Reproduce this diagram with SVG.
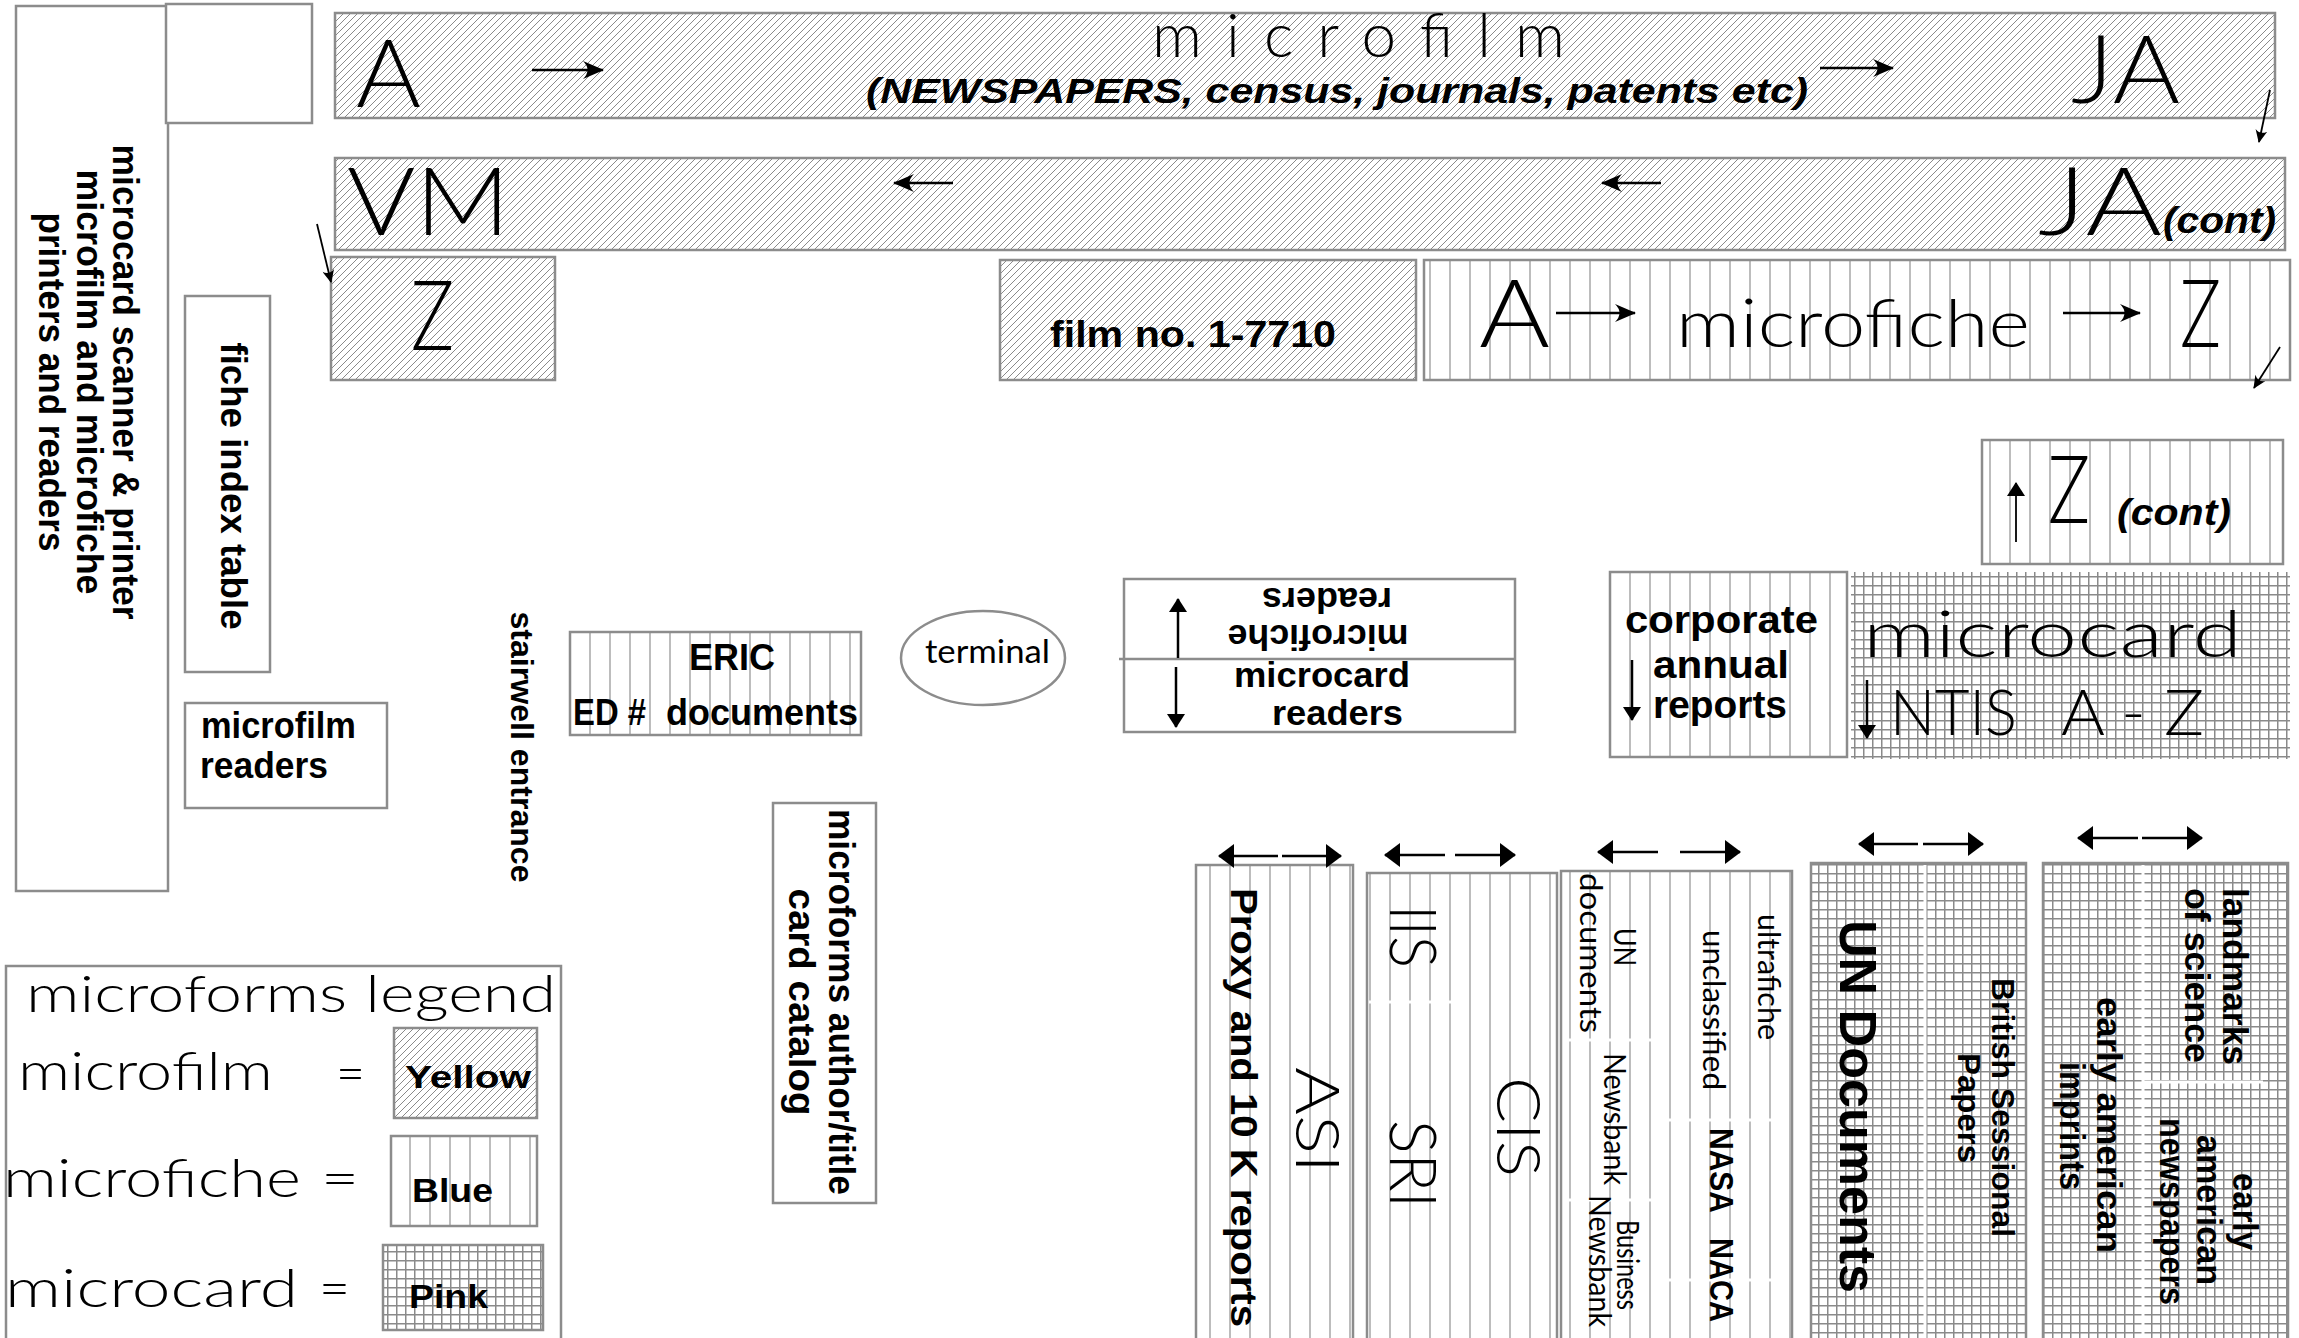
<svg xmlns="http://www.w3.org/2000/svg" width="2299" height="1338" viewBox="0 0 2299 1338">
<defs>
<pattern id="film" patternUnits="userSpaceOnUse" width="7" height="7">
<rect width="7" height="7" fill="#fff"/>
<path d="M-1,1 L1,-1 M0,7 L7,0 M6,8 L8,6" stroke="#8a8a8a" stroke-width="1"/>
</pattern>
<pattern id="fiche" patternUnits="userSpaceOnUse" width="20" height="40">
<rect width="20" height="40" fill="#fff"/>
<line x1="10" y1="0" x2="10" y2="40" stroke="#999" stroke-width="1.3"/>
</pattern>
<pattern id="card" patternUnits="userSpaceOnUse" width="9" height="9">
<rect width="9" height="9" fill="#fff"/>
<path d="M0.75,0 V9 M0,0.75 H9" stroke="#8a8a8a" stroke-width="1.5"/>
</pattern>
<marker id="ga" viewBox="0 0 24 20" refX="23" refY="10" markerWidth="24" markerHeight="20" markerUnits="userSpaceOnUse" orient="auto">
<path d="M24,10 L3,1 Q12,10 3,19 Z" fill="#000"/>
</marker>
<marker id="sa" viewBox="0 0 14 12" refX="13" refY="6" markerWidth="14" markerHeight="12" markerUnits="userSpaceOnUse" orient="auto">
<path d="M14,6 L1,0 Q6,6 1,12 Z" fill="#000"/>
</marker>
<marker id="ta" viewBox="0 0 16 24" refX="15" refY="12" markerWidth="16" markerHeight="24" markerUnits="userSpaceOnUse" orient="auto">
<path d="M0,0 L16,12 L0,24 Z" fill="#000"/>
</marker>
<marker id="tb" viewBox="0 0 14 18" refX="13" refY="9" markerWidth="14" markerHeight="18" markerUnits="userSpaceOnUse" orient="auto">
<path d="M0,0 L14,9 L0,18 Z" fill="#000"/>
</marker>
</defs>
<style>
.box{stroke:#8c8c8c;stroke-width:2.5}
.film{fill:url(#film)}
.fiche{fill:url(#fiche)}
.card{fill:url(#card)}
.plain{fill:#fff}
text{font-family:"Liberation Sans",Arial,sans-serif;fill:#000}
.lt{font-family:Lato,"Liberation Sans",Arial,sans-serif;font-weight:300}
.sm{font-family:Lato,"Liberation Sans",Arial,sans-serif;font-weight:400}
.b{font-weight:bold}
.bi{font-weight:bold;font-style:italic}
.cn{stroke:#000;stroke-width:2.5;fill:none}
.thin{stroke:#000;stroke-width:1.8;fill:none}
.brk{stroke:#fff;stroke-width:3}
</style>
<rect width="2299" height="1338" fill="#fff"/>

<g id="scanner">
<rect class="box plain" x="16" y="6" width="152" height="885"/>
<text class="b" font-size="36" text-anchor="middle" textLength="475" lengthAdjust="spacingAndGlyphs" transform="translate(113,382) rotate(90)">microcard scanner &amp; printer</text>
<text class="b" font-size="36" text-anchor="middle" textLength="425" lengthAdjust="spacingAndGlyphs" transform="translate(77,382) rotate(90)">microfilm and microfiche</text>
<text class="b" font-size="36" text-anchor="middle" textLength="339" lengthAdjust="spacingAndGlyphs" transform="translate(39,382) rotate(90)">printers and readers</text>
</g>
<g id="small-box"><rect class="box plain" x="166" y="4" width="146" height="119"/></g>

<g id="microfilm-row1">
<rect class="box film" x="335" y="13" width="1940" height="105"/>
<text class="lt" font-size="94" x="356" y="107" textLength="65" lengthAdjust="spacingAndGlyphs">A</text>
<text class="lt" font-size="62" x="1152" y="57" textLength="413" lengthAdjust="spacing">microfilm</text>
<text class="bi" font-size="35" x="866" y="103" textLength="942" lengthAdjust="spacingAndGlyphs">(NEWSPAPERS, census, journals, patents etc)</text>
<text class="lt" font-size="94" x="2071" y="103" textLength="109" lengthAdjust="spacingAndGlyphs">JA</text>
</g>

<g id="microfilm-row2">
<rect class="box film" x="335" y="158" width="1950" height="92"/>
<text class="lt" font-size="94" x="347" y="235" textLength="163" lengthAdjust="spacingAndGlyphs">VM</text>
<text class="lt" font-size="94" x="2038" y="235" textLength="124" lengthAdjust="spacingAndGlyphs">JA</text>
<text class="bi" font-size="36" x="2163" y="233" textLength="113" lengthAdjust="spacingAndGlyphs">(cont)</text>
</g>

<g id="microfilm-z">
<rect class="box film" x="331" y="257" width="224" height="123"/>
<text class="lt" font-size="96" x="411" y="350" textLength="43" lengthAdjust="spacingAndGlyphs">Z</text>
</g>

<g id="film-no">
<rect class="box film" x="1000" y="260" width="416" height="120"/>
<text class="b" font-size="37" x="1050" y="347" textLength="286" lengthAdjust="spacingAndGlyphs">film no. 1-7710</text>
</g>

<g id="microfiche-row">
<rect class="box fiche" x="1424" y="260" width="866" height="120"/>
<text class="lt" font-size="94" x="1479" y="347" textLength="71" lengthAdjust="spacingAndGlyphs">A</text>
<text class="lt" font-size="67" x="1676" y="347" textLength="354" lengthAdjust="spacingAndGlyphs">microfiche</text>
<text class="lt" font-size="94" x="2180" y="347" textLength="41" lengthAdjust="spacingAndGlyphs">Z</text>
</g>

<g id="microfiche-z-cont">
<rect class="box fiche" x="1982" y="440" width="301" height="124"/>
<text class="lt" font-size="94" x="2048" y="523" textLength="42" lengthAdjust="spacingAndGlyphs">Z</text>
<text class="bi" font-size="36" x="2117" y="525" textLength="114" lengthAdjust="spacingAndGlyphs">(cont)</text>
</g>

<g id="corporate">
<rect class="box fiche" x="1610" y="572" width="237" height="185"/>
<text class="b" font-size="38" x="1625" y="633" textLength="193" lengthAdjust="spacingAndGlyphs">corporate</text>
<text class="b" font-size="38" x="1653" y="678" textLength="136" lengthAdjust="spacingAndGlyphs">annual</text>
<text class="b" font-size="38" x="1653" y="718" textLength="134" lengthAdjust="spacingAndGlyphs">reports</text>
</g>

<g id="microcard-ntis">
<rect class="card" x="1851" y="572" width="439" height="187"/>
<text class="lt" font-size="66" x="1863" y="657" textLength="379" lengthAdjust="spacingAndGlyphs">microcard</text>
<text class="lt" font-size="63" x="1890" y="735" textLength="127" lengthAdjust="spacingAndGlyphs">NTIS</text>
<text class="lt" font-size="63" x="2061" y="735" textLength="143" lengthAdjust="spacingAndGlyphs">A - Z</text>
</g>

<g id="fiche-index">
<rect class="box plain" x="185" y="296" width="85" height="376"/>
<text class="b" font-size="36" text-anchor="middle" textLength="287" lengthAdjust="spacingAndGlyphs" transform="translate(221,486) rotate(90)">fiche index table</text>
</g>

<g id="microfilm-readers">
<rect class="box plain" x="185" y="703" width="202" height="105"/>
<text class="b" font-size="36" x="201" y="738" textLength="155" lengthAdjust="spacingAndGlyphs">microfilm</text>
<text class="b" font-size="36" x="200" y="778" textLength="128" lengthAdjust="spacingAndGlyphs">readers</text>
</g>

<g id="stairwell">
<text class="b" font-size="32" text-anchor="middle" textLength="271" lengthAdjust="spacingAndGlyphs" transform="translate(511,747) rotate(90)">stairwell entrance</text>
</g>

<g id="eric">
<rect class="box fiche" x="570" y="632" width="291" height="103"/>
<text class="b" font-size="37" x="689" y="670" textLength="86" lengthAdjust="spacingAndGlyphs">ERIC</text>
<text class="b" font-size="37" x="573" y="725" textLength="73" lengthAdjust="spacingAndGlyphs">ED #</text>
<text class="b" font-size="37" x="666" y="725" textLength="192" lengthAdjust="spacingAndGlyphs">documents</text>
</g>

<g id="terminal">
<ellipse class="box plain" cx="983" cy="658" rx="82" ry="47"/>
<text class="sm" font-size="32" x="925" y="663" textLength="125" lengthAdjust="spacingAndGlyphs">terminal</text>
</g>

<g id="readers">
<rect class="box plain" x="1124" y="579" width="391" height="153"/>
<line class="box" x1="1119" y1="659" x2="1515" y2="659"/>
<g transform="rotate(180,1320,620)">
<text class="b" font-size="35" x="1322" y="615" text-anchor="middle" textLength="181" lengthAdjust="spacingAndGlyphs">microfiche</text>
<text class="b" font-size="35" x="1313" y="652" text-anchor="middle" textLength="130" lengthAdjust="spacingAndGlyphs">readers</text>
</g>
<text class="b" font-size="35" x="1234" y="687" textLength="176" lengthAdjust="spacingAndGlyphs">microcard</text>
<text class="b" font-size="35" x="1272" y="725" textLength="131" lengthAdjust="spacingAndGlyphs">readers</text>
</g>

<g id="card-catalog">
<rect class="box plain" x="773" y="803" width="103" height="400"/>
<text class="b" font-size="36" text-anchor="middle" textLength="386" lengthAdjust="spacingAndGlyphs" transform="translate(829,1002) rotate(90)">microforms author/title</text>
<text class="b" font-size="36" text-anchor="middle" textLength="227" lengthAdjust="spacingAndGlyphs" transform="translate(789,1002) rotate(90)">card catalog</text>
</g>

<g id="legend">
<rect class="box plain" x="6" y="966" width="555" height="400"/>
<text class="lt" font-size="52" x="26" y="1012" textLength="530" lengthAdjust="spacingAndGlyphs">microforms legend</text>
<text class="lt" font-size="54" x="18" y="1090" textLength="255" lengthAdjust="spacingAndGlyphs">microfilm</text>
<text class="lt" font-size="54" x="336" y="1092" textLength="29" lengthAdjust="spacingAndGlyphs">=</text>
<text class="lt" font-size="54" x="3" y="1197" textLength="298" lengthAdjust="spacingAndGlyphs">microfiche</text>
<text class="lt" font-size="54" x="321" y="1197" textLength="38" lengthAdjust="spacingAndGlyphs">=</text>
<text class="lt" font-size="54" x="5" y="1307" textLength="293" lengthAdjust="spacingAndGlyphs">microcard</text>
<text class="lt" font-size="54" x="319" y="1307" textLength="31" lengthAdjust="spacingAndGlyphs">=</text>
<rect class="box film" x="394" y="1028" width="143" height="90"/>
<text class="b" font-size="32" x="405" y="1088" textLength="126" lengthAdjust="spacingAndGlyphs">Yellow</text>
<rect class="box fiche" x="391" y="1136" width="146" height="90"/>
<text class="b" font-size="34" x="412" y="1202" textLength="81" lengthAdjust="spacingAndGlyphs">Blue</text>
<rect class="box card" x="383" y="1245" width="160" height="85"/>
<text class="b" font-size="34" x="409" y="1308" textLength="79" lengthAdjust="spacingAndGlyphs">Pink</text>
</g>

<g id="shelf-asi">
<rect class="box fiche" x="1196" y="865" width="157" height="480"/>
<text class="b" font-size="37" textLength="439" lengthAdjust="spacingAndGlyphs" transform="translate(1231,888) rotate(90)">Proxy and 10 K reports</text>
<text class="lt" font-size="62" textLength="106" lengthAdjust="spacingAndGlyphs" transform="translate(1296,1067) rotate(90)">ASI</text>
</g>

<g id="shelf-cis">
<rect class="box fiche" x="1367" y="873" width="190" height="472"/>
<line class="brk" x1="1369" y1="1002" x2="1453" y2="1002"/>
<text class="lt" font-size="66" textLength="63" lengthAdjust="spacingAndGlyphs" transform="translate(1390,905) rotate(90)">IIS</text>
<text class="lt" font-size="66" textLength="88" lengthAdjust="spacingAndGlyphs" transform="translate(1390,1120) rotate(90)">SRI</text>
<text class="lt" font-size="62" textLength="100" lengthAdjust="spacingAndGlyphs" transform="translate(1497,1077) rotate(90)">CIS</text>
</g>

<g id="shelf-un-nasa">
<rect class="box fiche" x="1561" y="871" width="231" height="474"/>
<line class="brk" x1="1563" y1="1040" x2="1658" y2="1040"/>
<line class="brk" x1="1666" y1="1120" x2="1780" y2="1120"/>
<line class="brk" x1="1563" y1="1200" x2="1658" y2="1200"/>
<line class="brk" x1="1666" y1="1280" x2="1780" y2="1280"/>
<text class="sm" font-size="30" textLength="160" lengthAdjust="spacingAndGlyphs" transform="translate(1580,873) rotate(90)">documents</text>
<text class="sm" font-size="30" textLength="38" lengthAdjust="spacingAndGlyphs" transform="translate(1614,928) rotate(90)">UN</text>
<text class="sm" font-size="30" textLength="126" lengthAdjust="spacingAndGlyphs" transform="translate(1758,914) rotate(90)">ultrafiche</text>
<text class="sm" font-size="30" textLength="160" lengthAdjust="spacingAndGlyphs" transform="translate(1703,930) rotate(90)">unclassified</text>
<text class="sm" font-size="30" textLength="132" lengthAdjust="spacingAndGlyphs" transform="translate(1604,1053) rotate(90)">Newsbank</text>
<text class="sm" font-size="30" textLength="90" lengthAdjust="spacingAndGlyphs" transform="translate(1617,1220) rotate(90)">Business</text>
<text class="sm" font-size="30" textLength="132" lengthAdjust="spacingAndGlyphs" transform="translate(1589,1195) rotate(90)">Newsbank</text>
<text class="b" font-size="34" textLength="85" lengthAdjust="spacingAndGlyphs" transform="translate(1710,1128) rotate(90)">NASA</text>
<text class="b" font-size="34" textLength="84" lengthAdjust="spacingAndGlyphs" transform="translate(1710,1238) rotate(90)">NACA</text>
</g>

<g id="shelf-un-docs">
<rect class="box card" x="1811" y="863" width="215" height="482"/>
<line class="brk" x1="1925" y1="865" x2="1925" y2="1345"/>
<text class="b" font-size="52" textLength="373" lengthAdjust="spacingAndGlyphs" transform="translate(1840,920) rotate(90)">UN Documents</text>
<text class="b" font-size="32" textLength="259" lengthAdjust="spacingAndGlyphs" transform="translate(1992,978) rotate(90)">British Sessional</text>
<text class="b" font-size="32" textLength="110" lengthAdjust="spacingAndGlyphs" transform="translate(1958,1053) rotate(90)">Papers</text>
</g>

<g id="shelf-early-american">
<rect class="box card" x="2043" y="863" width="245" height="482"/>
<line class="brk" x1="2143" y1="865" x2="2143" y2="1345"/>
<line class="brk" x1="2143" y1="1082" x2="2263" y2="1082"/>
<text class="b" font-size="35" textLength="177" lengthAdjust="spacingAndGlyphs" transform="translate(2223,888) rotate(90)">landmarks</text>
<text class="b" font-size="35" textLength="175" lengthAdjust="spacingAndGlyphs" transform="translate(2185,888) rotate(90)">of science</text>
<text class="b" font-size="35" textLength="256" lengthAdjust="spacingAndGlyphs" transform="translate(2097,997) rotate(90)">early american</text>
<text class="b" font-size="35" textLength="128" lengthAdjust="spacingAndGlyphs" transform="translate(2060,1062) rotate(90)">imprints</text>
<text class="b" font-size="35" textLength="77" lengthAdjust="spacingAndGlyphs" transform="translate(2233,1173) rotate(90)">early</text>
<text class="b" font-size="35" textLength="150" lengthAdjust="spacingAndGlyphs" transform="translate(2197,1135) rotate(90)">american</text>
<text class="b" font-size="35" textLength="187" lengthAdjust="spacingAndGlyphs" transform="translate(2160,1118) rotate(90)">newspapers</text>
</g>

<g id="connectors">
<line class="cn" x1="532" y1="70" x2="603" y2="70" marker-end="url(#ga)"/>
<line class="cn" x1="1820" y1="68" x2="1893" y2="68" marker-end="url(#ga)"/>
<line class="cn" x1="953" y1="183" x2="894" y2="183" marker-end="url(#ga)"/>
<line class="cn" x1="1661" y1="183" x2="1602" y2="183" marker-end="url(#ga)"/>
<line class="cn" x1="1556" y1="313" x2="1635" y2="313" marker-end="url(#ga)"/>
<line class="cn" x1="2063" y1="313" x2="2140" y2="313" marker-end="url(#ga)"/>
<line class="thin" x1="2270" y1="90" x2="2259" y2="142" marker-end="url(#sa)"/>
<line class="thin" x1="317" y1="224" x2="331" y2="282" marker-end="url(#sa)"/>
<line class="thin" x1="2280" y1="347" x2="2254" y2="388" marker-end="url(#sa)"/>
<line class="thin" x1="2016" y1="542" x2="2016" y2="483" marker-end="url(#tb)"/>
<line class="cn" x1="1178" y1="658" x2="1178" y2="599" marker-end="url(#tb)"/>
<line class="cn" x1="1176" y1="667" x2="1176" y2="727" marker-end="url(#tb)"/>
<line class="cn" x1="1632" y1="660" x2="1632" y2="720" marker-end="url(#tb)"/>
<line class="cn" x1="1867" y1="680" x2="1867" y2="738" marker-end="url(#tb)"/>
<line class="cn" x1="1278" y1="856" x2="1219" y2="856" marker-end="url(#ta)"/>
<line class="cn" x1="1282" y1="856" x2="1341" y2="856" marker-end="url(#ta)"/>
<line class="cn" x1="1445" y1="855" x2="1385" y2="855" marker-end="url(#ta)"/>
<line class="cn" x1="1455" y1="855" x2="1515" y2="855" marker-end="url(#ta)"/>
<line class="cn" x1="1658" y1="852" x2="1598" y2="852" marker-end="url(#ta)"/>
<line class="cn" x1="1680" y1="852" x2="1740" y2="852" marker-end="url(#ta)"/>
<line class="cn" x1="1918" y1="844" x2="1859" y2="844" marker-end="url(#ta)"/>
<line class="cn" x1="1923" y1="844" x2="1983" y2="844" marker-end="url(#ta)"/>
<line class="cn" x1="2138" y1="838" x2="2078" y2="838" marker-end="url(#ta)"/>
<line class="cn" x1="2142" y1="838" x2="2202" y2="838" marker-end="url(#ta)"/>
</g>
</svg>
